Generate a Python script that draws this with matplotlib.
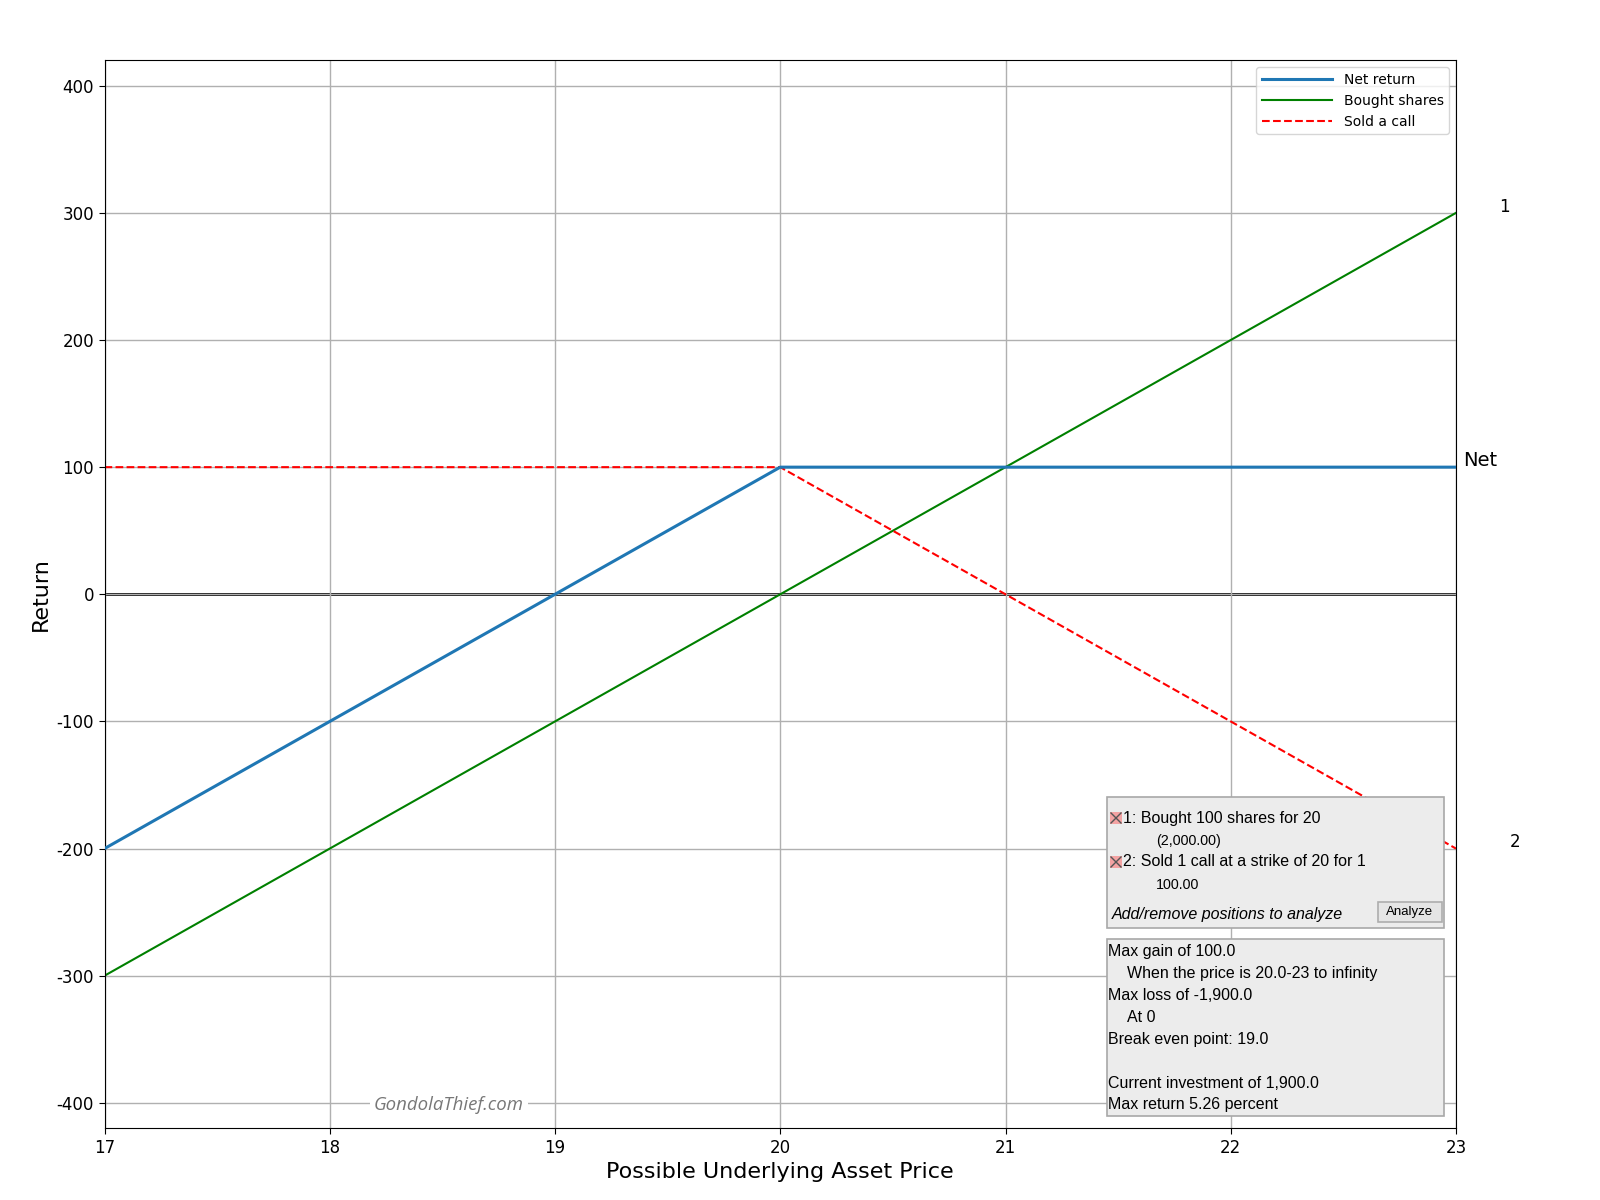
import matplotlib
matplotlib.use("Agg")
import matplotlib.pyplot as plt
from matplotlib.patches import Rectangle
from matplotlib.lines import Line2D

# ---- data ----
prices = [17, 18, 19, 20, 21, 22, 23]
bought_shares = [-300, -200, -100, 0, 100, 200, 300]
sold_call = [100, 100, 100, 100, 0, -100, -200]
net_return = [-200, -100, 0, 100, 100, 100, 100]
x_ticks = [17, 18, 19, 20, 21, 22, 23]
y_ticks = [-400, -300, -200, -100, 0, 100, 200, 300, 400]

box1_lines = ["1: Bought 100 shares for 20", "(2,000.00)",
              "2: Sold 1 call at a strike of 20 for 1", "100.00"]
box2_lines = ["Max gain of 100.0", "When the price is 20.0-23 to infinity",
              "Max loss of -1,900.0", "At 0", "Break even point: 19.0", "",
              "Current investment of 1,900.0", "Max return 5.26 percent"]
box2_indent = [False, True, False, True, False, False, False, False]

W, H = 1600, 1200
fig = plt.figure(figsize=(16, 12), dpi=100)
ax = fig.add_axes([104.5 / W, 1 - 1128.3 / H, (1456 - 104.5) / W, (1128.3 - 60.3) / H])

ax.grid(True, color="#b0b0b0", linewidth=1, zorder=0)
ax.axhline(0, color="black", linewidth=2.0, zorder=1)
ax.plot(prices, net_return, color="#1f77b4", linewidth=2.2, label="Net return", zorder=3)
ax.plot(prices, bought_shares, color="green", linewidth=1.5, label="Bought shares", zorder=2)
ax.plot(prices, sold_call, color="red", linewidth=1.5, linestyle="--", label="Sold a call", zorder=2)

ax.set_xlim(17, 23)
ax.set_ylim(-420, 420)
ax.set_xticks(x_ticks)
ax.set_xticklabels([str(v) for v in x_ticks])
ax.set_yticks(y_ticks)
ax.set_yticklabels([str(v) for v in y_ticks])
ax.tick_params(labelsize=12, length=4)
ax.set_xlabel("Possible Underlying Asset Price", fontsize=16)
ax.set_ylabel("Return", fontsize=16)
ax.legend(loc="upper right", fontsize=10, handlelength=5.1)

# right-side labels
ax.text(23.03, 105, "Net", fontsize=14, ha="left", va="center", clip_on=False)
ax.text(23.19, 305, "1", fontsize=12, ha="left", va="center", clip_on=False)
ax.text(23.24, -195, "2", fontsize=12, ha="left", va="center", clip_on=False)

# watermark
ax.text(18.53, -402, "GondolaThief.com", fontsize=13.4, style="italic", color="#777777",
        family=["Open Sans", "DejaVu Sans"], ha="center", va="center", zorder=4,
        bbox=dict(facecolor="white", edgecolor="none", pad=3))


def fx(x):
    return x / W


def fy(y):
    return 1 - y / H


def box(x0, y0, x1, y1, fc="#ececec", ec="#a8a8a8"):
    fig.add_artist(Rectangle((fx(x0), fy(y1)), fx(x1) - fx(x0), fy(y0) - fy(y1),
                             transform=fig.transFigure, facecolor=fc, edgecolor=ec,
                             linewidth=1.2, zorder=10))


def txt(x, y, s, size=11.5, **kw):
    fig.text(fx(x), fy(y), s, fontsize=size, family=["Liberation Sans", "DejaVu Sans"],
             va="center", ha="left", zorder=11, **kw)


def xicon(x0, y0):
    fig.add_artist(Rectangle((fx(x0), fy(y0 + 12)), 12 / W, 12 / H, transform=fig.transFigure,
                             facecolor="#f4a3a3", edgecolor="none", zorder=11))
    for (a, b) in [((x0 + 1, y0 + 1), (x0 + 11, y0 + 11)), ((x0 + 1, y0 + 11), (x0 + 11, y0 + 1))]:
        fig.add_artist(Line2D([fx(a[0]), fx(b[0])], [fy(a[1]), fy(b[1])], transform=fig.transFigure,
                              color="#555555", linewidth=1, zorder=12))


# positions box
box(1107, 797, 1444, 928)
xicon(1110, 812)
txt(1123, 818, box1_lines[0])
txt(1156, 841, box1_lines[1], size=10.3)
xicon(1110, 856)
txt(1123, 862, box1_lines[2])
txt(1156, 885, box1_lines[3], size=10.3)
txt(1112, 914, "Add/remove positions to analyze", style="italic")
box(1378, 902, 1442, 922, fc="#e5e5e5", ec="#adadad")
fig.text(fx(1410), fy(912.5), "Analyze", fontsize=9.5, family=["Liberation Sans", "DejaVu Sans"],
         ha="center", va="center", zorder=11)

# analysis box
box(1107, 939, 1444, 1116)
line_y = [951.7, 973.5, 995.5, 1017.5, 1039.5, 1061.5, 1083.3, 1105]
for yy, s, ind in zip(line_y, box2_lines, box2_indent):
    if s:
        txt(1126.7 if ind else 1108, yy, s)

fig.savefig("out.png", dpi=100)
